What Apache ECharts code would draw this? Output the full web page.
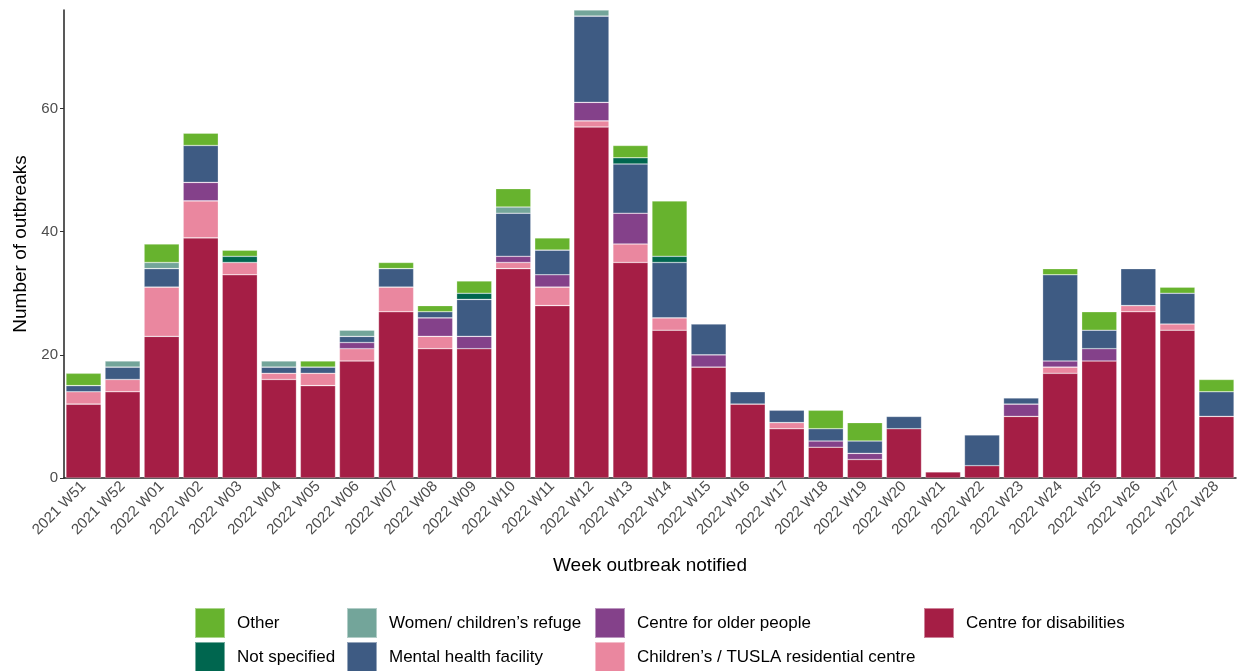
<!DOCTYPE html>
<html>
<head>
<meta charset="utf-8">
<script src="https://cdn.jsdelivr.net/npm/echarts@6/dist/echarts.min.js"></script>
<style>
html,body{margin:0;padding:0;background:#fff;}
#chart{width:1239px;height:671px;}
</style>
</head>
<body>
<div id="chart"></div>
<script>
const weeks = ["2021 W51","2021 W52","2022 W01","2022 W02","2022 W03","2022 W04","2022 W05","2022 W06","2022 W07","2022 W08","2022 W09","2022 W10","2022 W11","2022 W12","2022 W13","2022 W14","2022 W15","2022 W16","2022 W17","2022 W18","2022 W19","2022 W20","2022 W21","2022 W22","2022 W23","2022 W24","2022 W25","2022 W26","2022 W27","2022 W28"];
const disabilities = [12,14,23,39,33,16,15,19,27,21,21,34,28,57,35,24,18,12,8,5,3,8,1,2,10,17,19,27,24,10];
const tusla        = [2,2,8,6,2,1,2,2,4,2,0,1,3,1,3,2,0,0,1,0,0,0,0,0,0,1,0,1,1,0];
const olderPeople  = [0,0,0,3,0,0,0,1,0,3,2,1,2,3,5,0,2,0,0,1,1,0,0,0,2,1,2,0,0,0];
const mentalHealth = [1,2,3,6,0,1,1,1,3,1,6,7,4,14,8,9,5,2,2,2,2,2,0,5,1,14,3,6,5,4];
const refuge       = [0,1,1,0,0,1,0,1,0,0,0,1,0,1,0,0,0,0,0,0,0,0,0,0,0,0,0,0,0,0];
const notSpecified = [0,0,0,0,1,0,0,0,0,0,1,0,0,0,1,1,0,0,0,0,0,0,0,0,0,0,0,0,0,0];
const other        = [2,0,3,2,1,0,1,0,1,1,2,3,2,0,2,9,0,0,0,3,3,0,0,0,0,1,3,0,1,2];
const yTicks = [0,20,40,60];

const seriesDefs = [
  {name:"Centre for disabilities", data:disabilities, color:"#A51E45"},
  {name:"Children\u2019s / TUSLA residential centre", data:tusla, color:"#EA879F"},
  {name:"Centre for older people", data:olderPeople, color:"#84418A"},
  {name:"Mental health facility", data:mentalHealth, color:"#3E5B83"},
  {name:"Women/ children\u2019s refuge", data:refuge, color:"#73A59A"},
  {name:"Not specified", data:notSpecified, color:"#00664F"},
  {name:"Other", data:other, color:"#67B32E"}
];

const legendLayout = [
  ["Other", 194, 607],
  ["Not specified", 194, 641],
  ["Women/ children\u2019s refuge", 346, 607],
  ["Mental health facility", 346, 641],
  ["Centre for older people", 594, 607],
  ["Children\u2019s / TUSLA residential centre", 594, 641],
  ["Centre for disabilities", 923, 607]
];

const font = "Liberation Sans, Arial, sans-serif";
const chart = echarts.init(document.getElementById('chart'));

chart.setOption({
  animation: false,
  textStyle: {fontFamily: font},
  grid: {left: 64, right: 3, top: 10, bottom: 193, containLabel: false},
  legend: legendLayout.map(([name, left, top]) => ({
    left: left, top: top, padding: 0, orient: 'horizontal',
    itemWidth: 30, itemHeight: 30, icon: 'rect', selectedMode: false,
    data: [name],
    textStyle: {fontFamily: font, fontSize: 17, color: '#000', padding: [0,0,0,7]}
  })),
  xAxis: {
    type: 'category', data: weeks,
    name: 'Week outbreak notified', nameLocation: 'middle', nameGap: 78,
    nameTextStyle: {fontFamily: font, fontSize: 19, color: '#000'},
    axisLine: {lineStyle: {color: '#222', width: 1.5}},
    axisTick: {alignWithLabel: true, length: 4, lineStyle: {color: '#333'}},
    axisLabel: {rotate: 45, fontSize: 15, color: '#4d4d4d', margin: 6, interval: 0, fontFamily: font}
  },
  yAxis: {
    type: 'value', min: 0, max: 76, interval: 20,
    name: 'Number of outbreaks', nameLocation: 'middle', nameGap: 34,
    nameTextStyle: {fontFamily: font, fontSize: 19, color: '#000'},
    axisLine: {show: true, lineStyle: {color: '#222', width: 1.5}},
    axisTick: {show: true, length: 4, lineStyle: {color: '#333'}},
    axisLabel: {fontSize: 15, color: '#4d4d4d', margin: 6, showMaxLabel: false, fontFamily: font,
      formatter: v => yTicks.includes(v) ? String(v) : ''},
    splitLine: {show: false}
  },
  series: seriesDefs.map(s => ({
    name: s.name, type: 'bar', stack: 'total',
    barCategoryGap: '10%',
    data: s.data.map(v => v === 0 ? null : v),
    itemStyle: {color: s.color, borderColor: 'rgba(255,255,255,0.45)', borderWidth: 0.6}
  }))
});
</script>
</body>
</html>
